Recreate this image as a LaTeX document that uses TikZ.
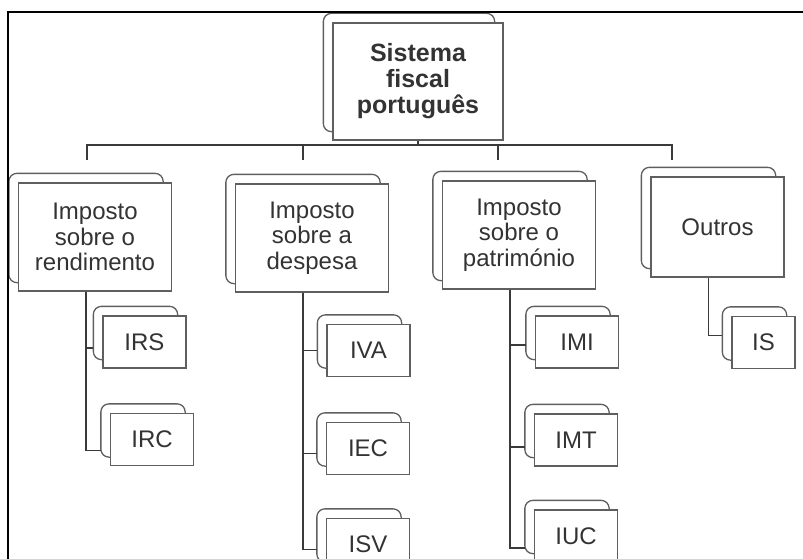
\documentclass[tikz,border=0pt]{standalone}
\usepackage{fontspec}
\setmainfont{Liberation Sans}
\usetikzlibrary{calc,backgrounds}
\definecolor{boxgray}{HTML}{5F5F5F}
\definecolor{linegray}{HTML}{3A3A3A}
\definecolor{textgray}{HTML}{333333}
\tikzset{
  card/.style={draw=boxgray, line width=1.3pt, fill=white, text=textgray,
    align=center, inner sep=0pt},
  toplevel/.style={card, minimum width=170pt, minimum height=117pt,
    font=\fontsize{25}{26}\selectfont\bfseries},
  group/.style={card, minimum width=153pt, minimum height=108pt,
    font=\fontsize{24}{25.5}\selectfont},
  leaf/.style={card, minimum width=83pt, minimum height=52pt,
    font=\fontsize{24}{25.5}\selectfont},
  backcard/.style={draw=boxgray, line width=1.3pt, fill=white, rounded corners=8pt},
  link/.style={draw=linegray, line width=1.5pt},
}

\begin{document}
\begin{tikzpicture}[x=1pt,y=-1pt]
  \useasboundingbox (0,0) rectangle (803,559);
  \clip (0,0) rectangle (803,559);
  % page frame
  \draw[black, line width=2pt] (8,559) -- (8,12) -- (803,12);

  % top of the tree
  \node[toplevel] (root) at (418,81.5) {Sistema\\fiscal\\português};

  % the four groups
  \node[group] (ren) at (95,237) {Imposto\\sobre o\\rendimento};
  \node[group] (des) at (312,238) {Imposto\\sobre a\\despesa};
  \node[group] (pat) at (519,235) {Imposto\\sobre o\\património};
  \node[group, minimum width=133pt, minimum height=100pt] (out) at (717.5,227) {Outros};

  % the taxes
  \node[leaf] (irs) at (144.5,342) {IRS};
  \node[leaf] (irc) at (152,439.5) {IRC};
  \node[leaf] (iva) at (368.5,350.5) {IVA};
  \node[leaf] (iec) at (368,448.5) {IEC};
  \node[leaf] (isv) at (368,544.5) {ISV};
  \node[leaf] (imi) at (577,342) {IMI};
  \node[leaf] (imt) at (576,440) {IMT};
  \node[leaf] (iuc) at (576,536) {IUC};
  \node[leaf, minimum width=63pt] (is) at (763.5,342.5) {IS};

  % cards behind the boxes
  \begin{scope}[on background layer]
    \foreach \n in {root,ren,des,pat,out,irs,irc,iva,iec,isv,imi,imt,iuc,is}
      \draw[backcard] ($(\n.north west)+(-9,-9)$) rectangle ($(\n.south east)+(-9,-9)$);
  \end{scope}

  % level 1 connectors
  \coordinate (bus) at (0,145);
  \coordinate (ren tick) at (87,160);
  \coordinate (des tick) at (303,160);
  \coordinate (pat tick) at (498,160);
  \coordinate (out tick) at (672,160);
  \draw[link] (root.south) -- (root.south |- bus);
  \draw[link] (ren tick) -- (ren tick |- bus) -- (out tick |- bus) -- (out tick);
  \draw[link] (des tick) -- (des tick |- bus);
  \draw[link] (pat tick) -- (pat tick |- bus);

  % level 2 connectors
  \foreach \p/\c/\dy in {ren/irs/6, ren/irc/11, des/iva/0, des/iec/5, des/isv/5,
      pat/imi/3, pat/imt/7, pat/iuc/12, out/is/-7}
    \draw[link] ($(\p.south)+(-9,0)$) |- ($(\c.west)+(-9,\dy)$);
\end{tikzpicture}
\end{document}
